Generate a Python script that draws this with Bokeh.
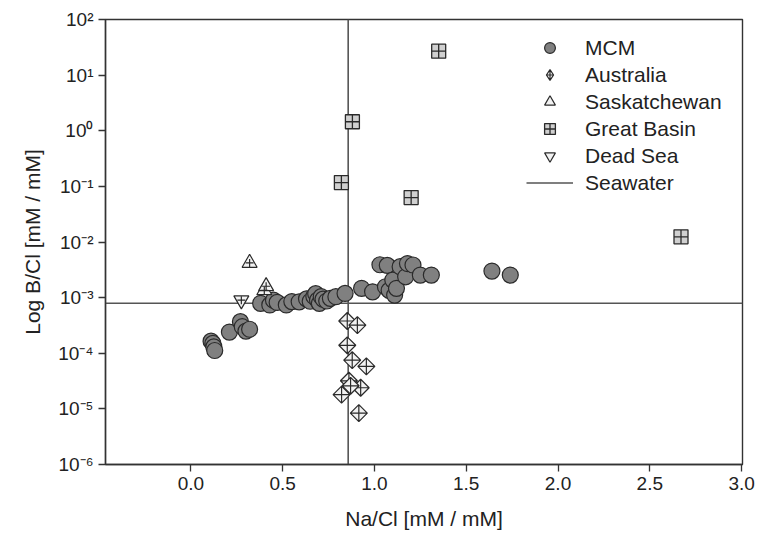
import math
from bokeh.plotting import figure
from bokeh.models import (Range1d, FixedTicker, CustomJSTickFormatter, PrintfTickFormatter,
                          Legend, LegendItem)
from bokeh.embed import file_html
from bokeh.resources import INLINE

# ---------------- data ----------------
mcm_x = [0.11, 0.12, 0.125, 0.13, 0.21, 0.27, 0.28, 0.30, 0.32,
         0.38, 0.43, 0.45, 0.47, 0.52, 0.55, 0.59, 0.63, 0.65, 0.67, 0.68, 0.69, 0.70,
         0.71, 0.72, 0.74, 0.76, 0.79, 0.84, 0.93, 0.99,
         1.03, 1.06, 1.07, 1.08, 1.10, 1.11, 1.12, 1.14, 1.17, 1.18, 1.21, 1.25, 1.31,
         1.64, 1.74]
mcm_y = [1.65e-4, 1.5e-4, 1.3e-4, 1.12e-4, 2.4e-4, 3.7e-4, 3.0e-4, 2.5e-4, 2.7e-4,
         7.9e-4, 7.4e-4, 9.0e-4, 8.2e-4, 7.4e-4, 8.5e-4, 8.4e-4, 9.5e-4, 8.6e-4, 1.05e-3, 1.18e-3, 9.0e-4, 7.9e-4,
         1.04e-3, 9.4e-4, 8.7e-4, 9.7e-4, 1.04e-3, 1.19e-3, 1.47e-3, 1.27e-3,
         3.9e-3, 1.57e-3, 3.8e-3, 1.35e-3, 2.07e-3, 1.11e-3, 1.47e-3, 3.6e-3, 2.37e-3, 4.1e-3, 3.86e-3, 2.54e-3, 2.54e-3,
         3.0e-3, 2.54e-3]

aus_x = [0.852, 0.907, 0.852, 0.879, 0.956, 0.861, 0.925, 0.821, 0.87, 0.915]
aus_y = [3.8e-4, 3.2e-4, 1.39e-4, 7.5e-5, 5.8e-5, 3.2e-5, 2.4e-5, 1.8e-5, 2.6e-5, 8.4e-6]

sask_x = [0.32, 0.40, 0.41]
sask_y = [4.2e-3, 1.35e-3, 1.6e-3]

gb_x = [1.35, 0.88, 0.82, 1.20, 2.67]
gb_y = [27.0, 1.45, 0.117, 0.063, 0.0124]

ds_x = [0.275]
ds_y = [9.0e-4]

seawater_na_cl = 0.857
seawater_b_cl = 7.9e-4

x_ticks = [0.0, 0.5, 1.0, 1.5, 2.0, 2.5, 3.0]
y_ticks = [1e-6, 1e-5, 1e-4, 1e-3, 1e-2, 1e-1, 1e0, 1e1, 1e2]
X_MIN, X_MAX = -0.465, 3.005
Y_MIN, Y_MAX = 1e-6, 1e2

FONT = "Liberation Sans"
TXT = "#222222"
EDGE = "#2a2a2a"
LIGHT = "#f2f2f2"

p = figure(width=759, height=539, x_range=Range1d(X_MIN, X_MAX), y_range=Range1d(Y_MIN, Y_MAX),
           y_axis_type="log", output_backend="svg", toolbar_location=None,
           min_border_left=105, min_border_right=17, min_border_top=19, min_border_bottom=75)
p.background_fill_color = "white"
p.border_fill_color = "white"
p.outline_line_color = "#333333"
p.outline_line_width = 1.4
p.xgrid.visible = False
p.ygrid.visible = False

# seawater reference lines
sw = p.multi_line(xs=[[seawater_na_cl, seawater_na_cl], [X_MIN, X_MAX]],
                  ys=[[Y_MIN, Y_MAX], [seawater_b_cl, seawater_b_cl]],
                  line_color="#555555", line_width=1.6)

mcm = p.scatter(mcm_x, mcm_y, marker="circle", size=16, fill_color="#808080",
                line_color=EDGE, line_width=1.2)
# Australia: legend swatch glyph (fully covered by the rotated markers drawn on top)
aus_key = p.scatter(aus_x, aus_y, marker="diamond_cross", size=13, fill_color=LIGHT,
                    line_color=EDGE, line_width=1.2)
p.scatter(aus_x, aus_y, marker="square_x", angle=math.pi / 4, size=12,
          fill_color=LIGHT, line_color=EDGE, line_width=1.2)
sask = p.scatter(sask_x, sask_y, marker="triangle", size=15, fill_color=LIGHT,
                 line_color=EDGE, line_width=1.2)
p.scatter(sask_x, sask_y, marker="cross", size=8, line_color=EDGE, line_width=1.2)
gb = p.scatter(gb_x, gb_y, marker="square_cross", size=14, fill_color="#d0d0d0",
               line_color=EDGE, line_width=1.3)
ds = p.scatter(ds_x, ds_y, marker="inverted_triangle", size=15, fill_color=LIGHT,
               line_color=EDGE, line_width=1.2)
p.scatter(ds_x, ds_y, marker="cross", size=8, line_color=EDGE, line_width=1.2)

# axes
for ax in (p.xaxis[0], p.yaxis[0]):
    ax.axis_line_color = "#333333"
    ax.axis_line_width = 1.4
    ax.major_tick_line_color = "#333333"
    ax.major_tick_line_width = 1.3
    ax.major_tick_out = 7
    ax.major_tick_in = 0
    ax.minor_tick_line_color = None
    ax.major_label_text_font = FONT
    ax.major_label_text_font_size = "19px"
    ax.major_label_text_color = TXT
    ax.axis_label_text_font = FONT
    ax.axis_label_text_font_size = "21px"
    ax.axis_label_text_font_style = "normal"
    ax.axis_label_text_color = TXT

p.xaxis.ticker = FixedTicker(ticks=x_ticks)
p.xaxis.formatter = PrintfTickFormatter(format="%.1f")
p.xaxis.axis_label = "Na/Cl [mM / mM]"
p.xaxis.axis_label_standoff = 14

p.yaxis.ticker = FixedTicker(ticks=y_ticks)
p.yaxis.formatter = CustomJSTickFormatter(code="""
const sup = {'-':'\u207b','0':'\u2070','1':'\u00b9','2':'\u00b2','3':'\u00b3','4':'\u2074',
             '5':'\u2075','6':'\u2076','7':'\u2077','8':'\u2078','9':'\u2079'};
const e = Math.round(Math.log10(tick));
return '10' + String(e).split('').map(c => sup[c]).join('');
""")
p.yaxis.axis_label = "Log B/Cl [mM / mM]"
p.yaxis.axis_label_standoff = 11

legend = Legend(items=[
    LegendItem(label="MCM", renderers=[mcm]),
    LegendItem(label="Australia", renderers=[aus_key]),
    LegendItem(label="Saskatchewan", renderers=[sask]),
    LegendItem(label="Great Basin", renderers=[gb]),
    LegendItem(label="Dead Sea", renderers=[ds]),
    LegendItem(label="Seawater", renderers=[sw]),
], location=(421, 268), glyph_width=47, glyph_height=27, spacing=0, label_standoff=12,
    padding=0, margin=0, border_line_color=None, background_fill_alpha=0,
    label_text_font=FONT, label_text_font_size="21px", label_text_color=TXT)
p.add_layout(legend)

open("out.html", "w").write(file_html(p, INLINE))
